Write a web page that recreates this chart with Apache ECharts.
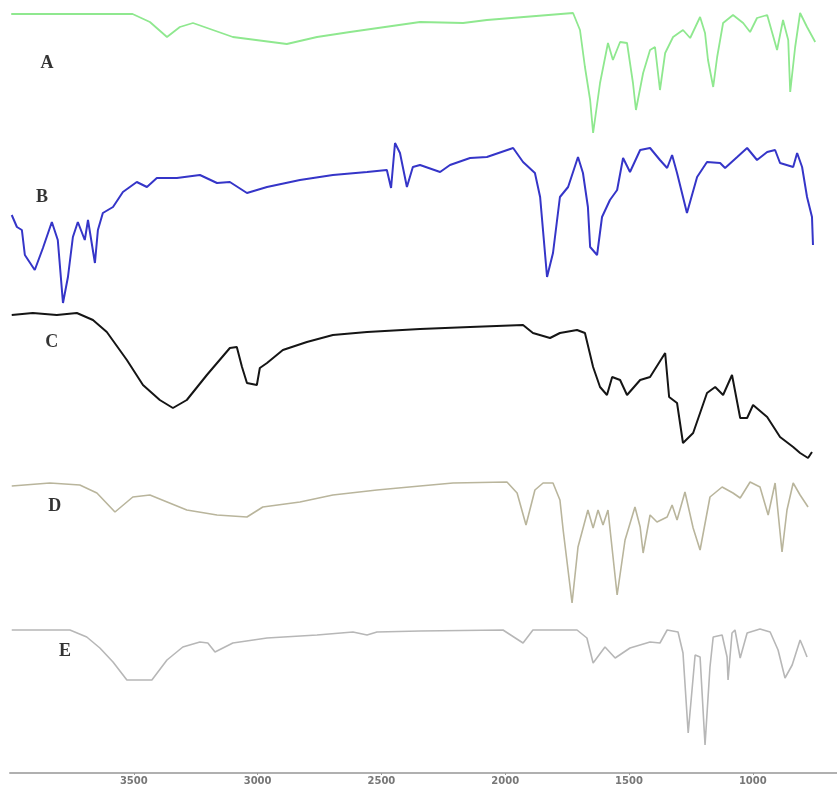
<!DOCTYPE html>
<html>
<head>
<meta charset="utf-8">
<script src="https://cdn.jsdelivr.net/npm/echarts@6/dist/echarts.min.js"></script>
<style>
html, body { margin: 0; padding: 0; background: #fff; }
#chart { width: 837px; height: 787px; }
</style>
</head>
<body>
<div id="chart"></div>
<script>
// 波数 (cm-1) 与 偏移后的强度 (a.u.)
const traceA = [
	[3995, 759], [3505, 759], [3435, 751], [3366, 736], [3314, 746], [3261, 750], [3100, 736],
	[2882, 729], [2760, 736], [2627, 741], [2344, 751], [2170, 750], [2074, 753], [1726, 760],
	[1698, 743], [1678, 706], [1657, 673], [1645, 640], [1617, 690], [1585, 730], [1565, 713],
	[1536, 731], [1508, 730], [1484, 690], [1472, 663], [1443, 700], [1415, 723], [1395, 726],
	[1375, 683], [1354, 720], [1322, 736], [1282, 743], [1253, 735], [1213, 756], [1193, 740],
	[1181, 713], [1160, 686], [1144, 716], [1120, 750], [1080, 758], [1039, 750], [1011, 741],
	[983, 755], [942, 758], [902, 723], [878, 753], [857, 733], [849, 681], [829, 726],
	[809, 760], [781, 746], [748, 731]
];
const traceB = [
	[3993, 558], [3972, 546], [3952, 543], [3940, 518], [3900, 503], [3867, 525], [3831, 551],
	[3807, 533], [3786, 470], [3766, 496], [3746, 536], [3726, 551], [3698, 533], [3685, 553],
	[3657, 510], [3645, 543], [3625, 560], [3584, 566], [3544, 581], [3488, 591], [3447, 586],
	[3407, 595], [3326, 595], [3233, 598], [3164, 590], [3112, 591], [3043, 580], [2962, 586],
	[2829, 593], [2696, 598], [2558, 601], [2478, 603], [2461, 585], [2445, 630], [2425, 620],
	[2397, 586], [2373, 606], [2344, 608], [2263, 601], [2223, 608], [2142, 615], [2074, 616],
	[1968, 625], [1928, 611], [1880, 600], [1859, 576], [1831, 496], [1807, 520], [1779, 576],
	[1746, 586], [1706, 616], [1686, 600], [1666, 566], [1657, 526], [1629, 518], [1609, 556],
	[1577, 573], [1548, 583], [1524, 615], [1496, 601], [1455, 623], [1415, 625], [1375, 613],
	[1346, 605], [1326, 618], [1306, 600], [1266, 560], [1225, 596], [1185, 611], [1132, 610],
	[1112, 605], [1063, 616], [1023, 625], [983, 613], [942, 621], [910, 623], [890, 610],
	[837, 606], [821, 620], [801, 606], [781, 576], [761, 556], [757, 528]
];
const traceC = [
	[3993, 458], [3908, 460], [3811, 458], [3730, 460], [3665, 453], [3609, 441], [3528, 413],
	[3463, 388], [3395, 373], [3342, 365], [3286, 373], [3205, 398], [3112, 425], [3084, 426],
	[3063, 406], [3043, 390], [3003, 388], [2991, 405], [2962, 410], [2898, 423], [2801, 431],
	[2696, 438], [2558, 441], [2344, 444], [2142, 446], [1928, 448], [1888, 440], [1819, 435],
	[1779, 440], [1710, 443], [1678, 440], [1645, 406], [1617, 386], [1589, 378], [1568, 396],
	[1536, 393], [1508, 378], [1455, 393], [1415, 396], [1354, 420], [1338, 376], [1306, 370],
	[1282, 330], [1241, 340], [1185, 380], [1152, 386], [1120, 378], [1084, 398], [1051, 355],
	[1023, 355], [999, 368], [942, 356], [890, 336], [837, 326], [809, 320], [777, 315],
	[761, 321]
];
const traceD = [
	[3993, 287], [3839, 290], [3718, 288], [3649, 280], [3576, 261], [3504, 276], [3435, 278],
	[3286, 263], [3164, 258], [3043, 256], [2979, 266], [2829, 271], [2696, 278], [2518, 283],
	[2344, 287], [2211, 290], [1993, 291], [1952, 280], [1916, 248], [1880, 283], [1847, 290],
	[1807, 290], [1779, 273], [1766, 243], [1730, 170], [1706, 226], [1666, 263], [1645, 245],
	[1625, 263], [1605, 248], [1585, 263], [1548, 178], [1516, 233], [1476, 266], [1455, 246],
	[1443, 220], [1415, 258], [1387, 251], [1346, 256], [1326, 268], [1306, 253], [1274, 281],
	[1241, 245], [1213, 223], [1173, 276], [1124, 286], [1080, 280], [1051, 275], [1011, 291],
	[971, 286], [938, 258], [910, 290], [882, 221], [862, 263], [837, 290], [809, 278],
	[777, 266]
];
const traceE = [
	[3993, 143], [3758, 143], [3690, 136], [3637, 125], [3584, 111], [3528, 93], [3427, 93],
	[3366, 113], [3302, 126], [3233, 131], [3201, 130], [3172, 121], [3100, 130], [2962, 135],
	[2760, 138], [2615, 141], [2558, 138], [2518, 141], [2344, 142], [2009, 143], [1928, 130],
	[1888, 143], [1710, 143], [1670, 135], [1645, 110], [1597, 126], [1556, 115], [1496, 125],
	[1415, 131], [1375, 130], [1346, 143], [1302, 141], [1282, 120], [1261, 40], [1233, 118],
	[1213, 116], [1193, 28], [1173, 106], [1160, 136], [1124, 138], [1104, 116], [1100, 93],
	[1084, 140], [1072, 143], [1051, 115], [1023, 140], [971, 144], [930, 141], [898, 123],
	[870, 95], [841, 108], [809, 133], [797, 126], [781, 116]
];
const traceNames = ['A', 'B', 'C', 'D', 'E'];
const labelPos = [[3851, 710], [3871, 576], [3831, 431], [3819, 267], [3778, 122]];
const tickValues = [3500, 3000, 2500, 2000, 1500, 1000];

const colors = ['#8fe88f', '#3535c8', '#151515', '#b9b59c', '#b7b7b7'];
const widths = [1.8, 2, 2, 1.6, 1.6];
const traces = [traceA, traceB, traceC, traceD, traceE];

const chart = echarts.init(document.getElementById('chart'));
const series = traces.map((d, i) => ({
	name: traceNames[i],
	type: 'line',
	data: d,
	symbol: 'none', // 不显示点
	smooth: false,
	lineStyle: { color: colors[i], width: widths[i] },
	z: 2
}));
// 曲线旁的字母标注
series.push({
	type: 'scatter',
	data: labelPos.map((p, i) => ({ value: p, name: traceNames[i] })),
	symbolSize: 0,
	label: {
		show: true,
		position: 'inside',
		formatter: (p) => p.name,
		fontFamily: 'Liberation Serif',
		fontWeight: 'bold',
		fontSize: 18,
		color: '#000'
	},
	z: 3
});

chart.setOption({
	animation: false,
	grid: { left: 10, right: 0, top: 0, bottom: 14, outerBoundsMode: 'none', containLabel: false },
	xAxis: {
		type: 'value',
		inverse: true,
		min: 660,
		max: 4000,
		name: 'Wavenumber (cm-1)',
		nameLocation: 'middle',
		nameGap: 13,
		nameTextStyle: { fontSize: 11, color: '#999', fontWeight: 'bold', fontFamily: 'Liberation Sans', verticalAlign: 'top' },
		axisLine: { lineStyle: { color: '#b0b0b0', width: 2 } },
		axisTick: { show: true, customValues: tickValues, length: 2, lineStyle: { color: '#999' } },
		axisLabel: {
			customValues: tickValues,
			formatter: (v) => String(v),
			fontSize: 10,
			fontWeight: 'bold',
			fontFamily: 'DejaVu Sans',
			color: '#777',
			margin: 3
		},
		splitLine: { show: false }
	},
	yAxis: {
		type: 'value',
		min: 0,
		max: 773,
		show: false
	},
	series: series
});
</script>
</body>
</html>
